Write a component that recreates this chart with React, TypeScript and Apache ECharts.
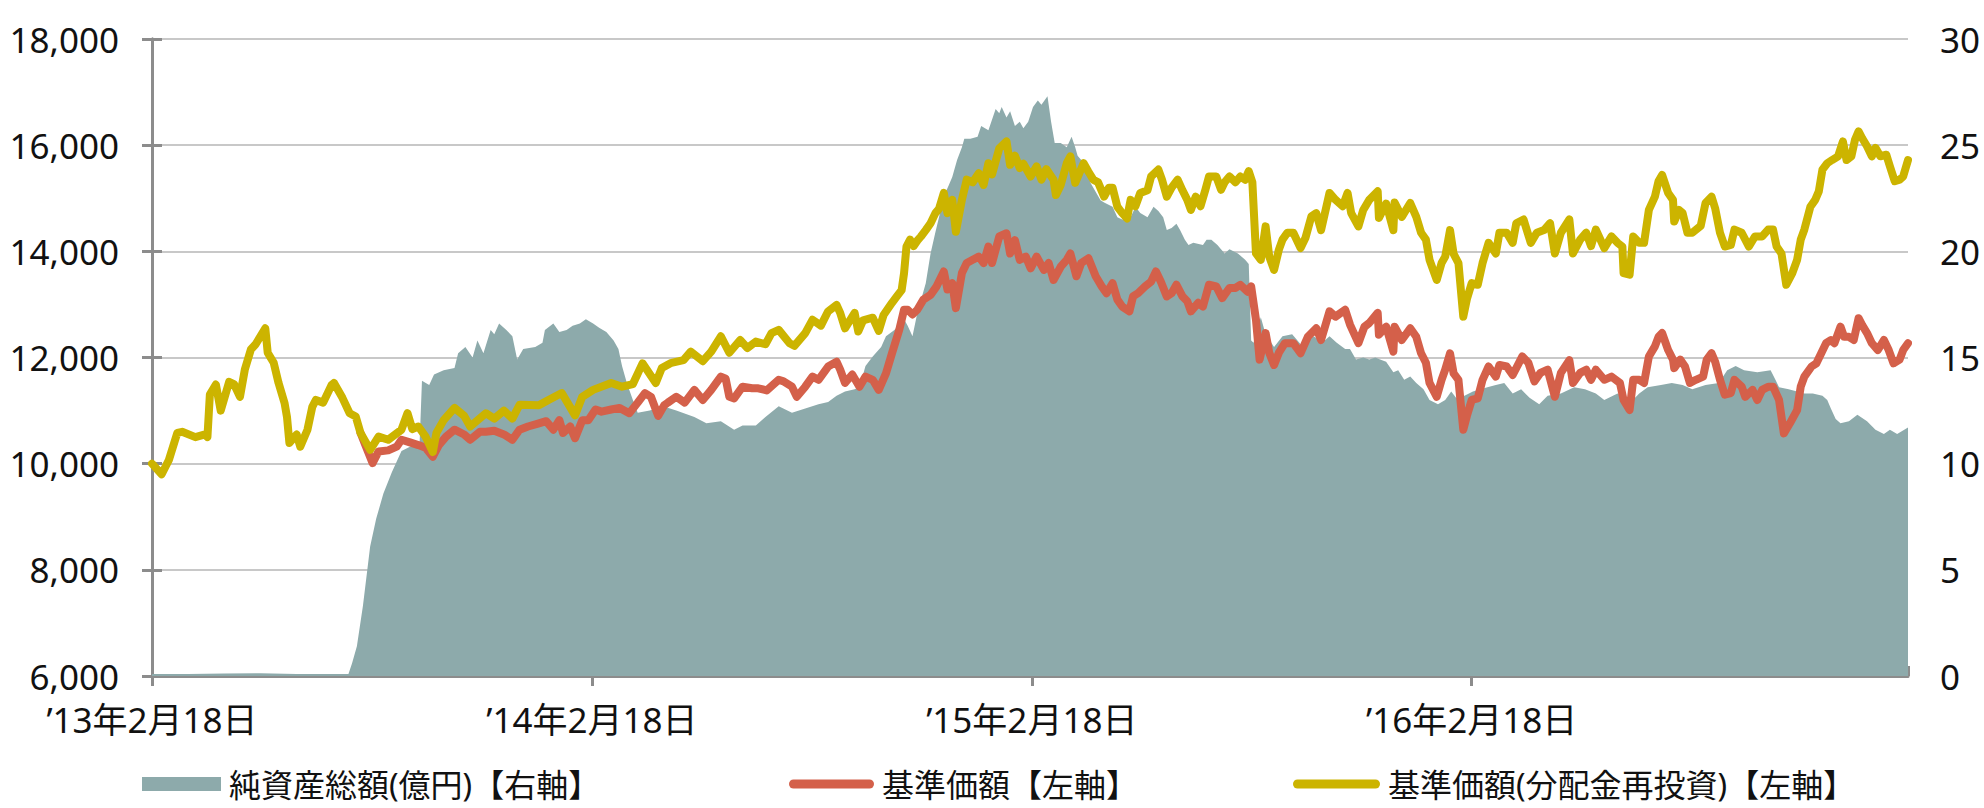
import React, { useEffect, useRef } from "react";
import * as echarts from "echarts";

// x values are days since 2013-02-18
const START_UTC = Date.UTC(2013, 1, 18);
const X_MAX_DAY = 1457;
const X_TICK_DAYS = 365;

const LEFT_AXIS = { min: 6000, max: 18000, interval: 2000 };
const RIGHT_AXIS = { min: 0, max: 30, interval: 5 };

const NAME_ASSETS = "純資産総額(億円)【右軸】";
const NAME_NAV = "基準価額【左軸】";
const NAME_REINV = "基準価額(分配金再投資)【左軸】";

// 純資産総額（億円） [day, value]
const netAssets: [number, number][] = [
  [0, 0.1], [30, 0.1], [60, 0.12], [90, 0.13], [120, 0.1], [150, 0.1], [163, 0.1],
  [166, 0.6], [170, 1.4], [175, 3.3], [181, 6.1], [186, 7.4], [192, 8.6], [199, 9.6],
  [207, 10.6], [214, 10.8], [222, 10.9], [224, 13.9], [230, 13.7], [234, 14.2], [242, 14.4],
  [251, 14.5], [254, 15.2], [260, 15.5], [266, 15.0], [270, 15.8], [275, 15.2], [281, 16.3],
  [284, 16.1], [288, 16.6], [294, 16.3], [299, 16.0], [303, 14.9], [308, 15.4], [318, 15.5],
  [324, 15.7], [326, 16.3], [333, 16.6], [338, 16.2], [344, 16.3], [349, 16.5], [355, 16.6],
  [360, 16.8], [366, 16.6], [371, 16.4], [377, 16.2], [383, 15.8], [387, 15.4], [390, 14.6],
  [394, 13.8], [399, 13.0], [403, 12.4], [413, 12.5], [424, 12.7], [435, 12.5], [450, 12.2],
  [460, 11.9], [472, 12.0], [483, 11.6], [490, 11.8], [501, 11.8], [509, 12.2], [520, 12.7],
  [531, 12.4], [542, 12.6], [553, 12.8], [561, 12.9], [568, 13.2], [575, 13.4], [583, 13.5],
  [587, 13.6], [592, 14.6], [598, 15.05], [605, 15.5], [609, 16.0], [616, 16.3], [624, 16.8],
  [627, 16.5], [631, 16.0], [635, 17.1], [638, 17.7], [642, 18.5], [646, 19.9], [650, 20.9],
  [653, 21.6], [657, 22.6], [661, 23.1], [664, 23.5], [668, 24.3], [672, 24.9], [674, 25.3],
  [679, 25.3], [685, 25.4], [688, 25.9], [694, 25.7], [700, 26.7], [703, 26.5], [705, 26.8],
  [709, 26.3], [712, 26.6], [716, 25.9], [720, 26.1], [723, 25.8], [727, 26.1], [731, 26.8],
  [735, 27.1], [738, 26.9], [743, 27.3], [746, 26.1], [749, 25.1], [754, 25.1], [759, 24.9],
  [763, 25.4], [766, 24.9], [768, 24.5], [771, 24.3], [779, 23.2], [787, 22.4], [790, 22.3],
  [797, 22.1], [801, 21.6], [805, 21.5], [812, 21.6], [816, 22.1], [820, 21.8], [826, 21.6],
  [831, 22.1], [835, 21.9], [839, 21.6], [842, 21.0], [846, 21.1], [850, 21.3], [853, 21.0],
  [857, 20.55], [860, 20.3], [864, 20.4], [872, 20.3], [875, 20.55], [879, 20.55], [884, 20.3],
  [890, 19.9], [894, 20.1], [901, 19.9], [907, 19.6], [910, 19.4], [912, 15.8], [914, 15.7],
  [920, 16.9], [924, 16.1], [931, 15.5], [938, 16.0], [946, 16.1], [955, 15.5], [958, 15.8],
  [964, 16.0], [971, 15.7], [977, 16.0], [983, 15.7], [990, 15.4], [994, 15.4], [999, 14.9],
  [1005, 15.0], [1010, 14.9], [1015, 15.0], [1019, 14.9], [1024, 14.8], [1030, 14.3],
  [1034, 14.4], [1039, 13.95], [1044, 14.1], [1049, 13.8], [1055, 13.5], [1060, 13.0],
  [1067, 12.8], [1073, 13.0], [1078, 13.4], [1082, 13.1], [1089, 13.2], [1096, 13.4],
  [1108, 13.6], [1115, 13.7], [1122, 13.8], [1129, 13.3], [1136, 13.5], [1143, 13.1],
  [1151, 12.8], [1158, 13.2], [1169, 13.3], [1180, 13.6], [1189, 13.5], [1198, 13.3],
  [1205, 13.0], [1216, 13.3], [1227, 12.9], [1234, 13.3], [1241, 13.6], [1252, 13.7],
  [1261, 13.8], [1270, 13.7], [1278, 13.5], [1289, 13.7], [1300, 13.8], [1307, 14.4],
  [1314, 14.6], [1321, 14.4], [1332, 14.3], [1343, 14.4], [1347, 13.95], [1350, 13.6],
  [1358, 13.5], [1365, 13.4], [1371, 13.3], [1378, 13.3], [1386, 13.2], [1390, 13.0],
  [1393, 12.6], [1397, 12.1], [1401, 11.9], [1408, 12.0], [1415, 12.3], [1423, 12.0],
  [1430, 11.6], [1437, 11.4], [1442, 11.6], [1448, 11.4], [1457, 11.7],
];

// 基準価額 [day, yen]
const nav: [number, number][] = [
  [173, 10580], [177, 10350], [183, 10010], [188, 10230], [196, 10250], [203, 10320],
  [207, 10450], [214, 10400], [221, 10350], [227, 10300], [233, 10130], [238, 10350],
  [244, 10510], [251, 10640], [259, 10550], [264, 10450], [272, 10600], [277, 10600],
  [284, 10620], [292, 10550], [299, 10450], [305, 10640], [312, 10700], [321, 10760],
  [327, 10800], [333, 10640], [338, 10820], [341, 10580], [347, 10700], [351, 10480],
  [357, 10820], [362, 10820], [368, 11020], [373, 10980], [381, 11020], [388, 11050],
  [396, 10950], [403, 11150], [409, 11330], [414, 11260], [420, 10900], [425, 11100],
  [428, 11150], [435, 11260], [442, 11150], [450, 11390], [457, 11200], [464, 11390],
  [472, 11640], [476, 11600], [479, 11260], [483, 11230], [490, 11450], [498, 11420],
  [503, 11420], [510, 11380], [520, 11580], [524, 11550], [531, 11450], [535, 11260],
  [542, 11450], [548, 11640], [553, 11580], [561, 11830], [568, 11920], [571, 11770],
  [575, 11520], [581, 11680], [587, 11450], [592, 11640], [598, 11580], [603, 11390],
  [609, 11700], [614, 12080], [620, 12520], [624, 12900], [627, 12900], [631, 12810],
  [635, 12900], [640, 13090], [646, 13180], [651, 13340], [657, 13620], [660, 13280],
  [664, 13400], [667, 12930], [672, 13590], [676, 13780], [681, 13840], [686, 13900],
  [690, 13780], [694, 14090], [697, 13780], [703, 14280], [709, 14340], [712, 13960],
  [716, 14210], [720, 13840], [725, 13900], [729, 13680], [734, 13900], [740, 13650],
  [744, 13780], [748, 13460], [754, 13710], [759, 13840], [762, 13960], [767, 13530],
  [771, 13780], [777, 13870], [783, 13530], [788, 13340], [792, 13210], [797, 13400],
  [801, 13090], [805, 12960], [811, 12870], [814, 13150], [818, 13210], [824, 13340],
  [829, 13430], [833, 13620], [837, 13430], [842, 13150], [846, 13210], [850, 13370],
  [855, 13150], [859, 13060], [862, 12870], [868, 13030], [872, 12960], [877, 13370],
  [883, 13340], [888, 13120], [894, 13310], [899, 13310], [903, 13370], [909, 13240],
  [912, 13340], [916, 12710], [919, 11960], [924, 12460], [927, 12090], [931, 11860],
  [935, 12090], [940, 12270], [947, 12270], [953, 12080], [959, 12390], [966, 12550],
  [970, 12330], [977, 12870], [982, 12770], [990, 12900], [994, 12620], [1001, 12270],
  [1006, 12580], [1010, 12650], [1017, 12840], [1018, 12430], [1024, 12580], [1030, 12110],
  [1031, 12580], [1037, 12330], [1044, 12550], [1049, 12390], [1053, 12080], [1057, 11900],
  [1060, 11520], [1066, 11260], [1070, 11580], [1073, 11770], [1077, 12080], [1080, 11700],
  [1084, 11580], [1088, 10640], [1091, 10900], [1095, 11200], [1100, 11230], [1104, 11580],
  [1109, 11830], [1115, 11640], [1118, 11860], [1124, 11830], [1129, 11670], [1137, 12020],
  [1142, 11900], [1147, 11550], [1152, 11710], [1158, 11770], [1164, 11260], [1169, 11710],
  [1176, 11950], [1179, 11520], [1185, 11710], [1190, 11770], [1194, 11580], [1198, 11770],
  [1205, 11580], [1211, 11640], [1218, 11520], [1221, 11200], [1226, 11010], [1229, 11580],
  [1234, 11580], [1238, 11520], [1242, 12020], [1247, 12210], [1250, 12390], [1253, 12460],
  [1258, 12140], [1262, 11960], [1263, 11800], [1268, 11960], [1272, 11830], [1276, 11520],
  [1281, 11580], [1287, 11640], [1290, 11960], [1294, 12080], [1297, 11920], [1301, 11580],
  [1305, 11300], [1310, 11330], [1313, 11580], [1319, 11450], [1322, 11260], [1328, 11390],
  [1332, 11200], [1336, 11390], [1341, 11450], [1345, 11450], [1350, 11200], [1354, 10570],
  [1359, 10760], [1365, 11010], [1368, 11450], [1371, 11640], [1377, 11830], [1381, 11890],
  [1385, 12080], [1389, 12270], [1393, 12330], [1396, 12270], [1401, 12580], [1404, 12390],
  [1408, 12390], [1412, 12330], [1416, 12740], [1419, 12610], [1423, 12460], [1427, 12270],
  [1432, 12140], [1437, 12330], [1441, 12140], [1445, 11890], [1450, 11960], [1453, 12140],
  [1457, 12270],
];

// 基準価額（分配金再投資） [day, yen]
const navReinvested: [number, number][] = [
  [0, 10000], [8, 9800], [14, 10070], [21, 10580], [25, 10600], [36, 10500], [44, 10550],
  [46, 10500], [48, 11300], [53, 11490], [57, 11000], [64, 11540], [68, 11500], [73, 11260],
  [77, 11770], [82, 12150], [86, 12250], [94, 12550], [96, 12090], [101, 11900], [105, 11520],
  [110, 11140], [112, 10880], [114, 10390], [120, 10550], [123, 10320], [129, 10640],
  [133, 11070], [136, 11200], [142, 11150], [149, 11480], [151, 11520], [158, 11240],
  [164, 10950], [169, 10890], [173, 10580], [181, 10260], [188, 10510], [196, 10450],
  [207, 10640], [212, 10950], [216, 10650], [221, 10700], [227, 10510], [233, 10220],
  [236, 10580], [242, 10820], [251, 11050], [259, 10900], [264, 10700], [277, 10950],
  [284, 10850], [292, 11000], [299, 10850], [305, 11110], [321, 11100], [329, 11200],
  [340, 11330], [351, 10910], [357, 11260], [366, 11390], [381, 11520], [390, 11450],
  [399, 11500], [407, 11890], [418, 11520], [423, 11800], [431, 11900], [441, 11950],
  [447, 12110], [457, 11930], [464, 12110], [472, 12400], [479, 12090], [488, 12330],
  [494, 12180], [501, 12300], [509, 12250], [514, 12460], [520, 12520], [529, 12270],
  [533, 12220], [542, 12460], [548, 12710], [555, 12600], [561, 12870], [568, 12990],
  [571, 12840], [575, 12550], [583, 12840], [586, 12490], [590, 12700], [598, 12750],
  [603, 12500], [607, 12800], [614, 13030], [618, 13150], [622, 13270], [624, 13590],
  [626, 14090], [629, 14220], [632, 14100], [635, 14200], [638, 14280], [642, 14400],
  [646, 14530], [650, 14720], [653, 14800], [657, 15100], [660, 14720], [664, 14970],
  [667, 14370], [672, 14970], [676, 15350], [681, 15300], [686, 15470], [690, 15250],
  [694, 15660], [697, 15450], [703, 15940], [709, 16070], [712, 15630], [716, 15800],
  [720, 15570], [723, 15650], [729, 15410], [734, 15600], [738, 15350], [742, 15550],
  [748, 15350], [750, 15060], [754, 15250], [759, 15660], [762, 15790], [766, 15290],
  [769, 15450], [773, 15660], [777, 15500], [781, 15350], [785, 15300], [790, 15030],
  [794, 15200], [797, 15200], [801, 14840], [805, 14720], [809, 14620], [812, 14970],
  [816, 14850], [820, 15100], [826, 15150], [829, 15410], [835, 15540], [838, 15350],
  [842, 15030], [846, 15200], [851, 15350], [855, 15150], [859, 14970], [862, 14780],
  [866, 15030], [870, 14850], [874, 15160], [877, 15410], [883, 15410], [887, 15160],
  [890, 15300], [894, 15410], [899, 15300], [903, 15410], [907, 15350], [910, 15510],
  [913, 15300], [916, 13960], [920, 13840], [924, 14470], [927, 13900], [931, 13650],
  [935, 14030], [938, 14220], [942, 14350], [947, 14350], [953, 14060], [957, 14250],
  [962, 14660], [966, 14720], [970, 14400], [977, 15100], [982, 14970], [988, 14850],
  [992, 15100], [995, 14720], [1001, 14470], [1005, 14780], [1010, 14970], [1017, 15130],
  [1018, 14630], [1024, 14900], [1030, 14400], [1031, 14920], [1037, 14650], [1044, 14910],
  [1049, 14650], [1053, 14350], [1057, 14220], [1060, 13840], [1066, 13460], [1070, 13780],
  [1073, 13900], [1077, 14400], [1080, 13950], [1084, 13780], [1088, 12770], [1091, 13100],
  [1095, 13400], [1100, 13370], [1104, 13780], [1109, 14160], [1115, 13960], [1118, 14350],
  [1124, 14350], [1129, 14160], [1132, 14530], [1138, 14600], [1144, 14160], [1149, 14350],
  [1155, 14400], [1160, 14530], [1164, 13960], [1169, 14350], [1176, 14600], [1179, 13960],
  [1185, 14220], [1190, 14350], [1194, 14100], [1198, 14410], [1205, 14060], [1211, 14280],
  [1216, 14160], [1220, 14090], [1221, 13590], [1226, 13560], [1229, 14280], [1234, 14160],
  [1238, 14160], [1242, 14780], [1247, 15030], [1250, 15320], [1253, 15440], [1258, 15100],
  [1262, 14970], [1263, 14560], [1267, 14780], [1270, 14720], [1274, 14350], [1278, 14350],
  [1285, 14480], [1289, 14910], [1294, 15030], [1297, 14810], [1301, 14350], [1305, 14090],
  [1310, 14120], [1313, 14410], [1319, 14350], [1325, 14090], [1330, 14280], [1336, 14280],
  [1341, 14410], [1345, 14410], [1348, 14090], [1352, 13960], [1356, 13370], [1361, 13590],
  [1365, 13840], [1368, 14220], [1371, 14410], [1376, 14840], [1380, 14970], [1383, 15130],
  [1386, 15540], [1390, 15660], [1394, 15720], [1399, 15790], [1403, 16070], [1406, 15720],
  [1410, 15790], [1413, 16100], [1416, 16260], [1419, 16130], [1423, 15980], [1427, 15790],
  [1430, 15950], [1434, 15790], [1439, 15820], [1442, 15600], [1446, 15320], [1450, 15350],
  [1453, 15410], [1457, 15720],
];

const COLOR_AREA = "#8DAAAB";
const COLOR_NAV = "#D4604A";
const COLOR_REINV = "#CCB400";
const AXIS_GREY = "#8C8C8C";
const GRID_GREY = "#C8C8C8";
const FONT = "'Noto Sans', 'Noto Sans CJK JP', sans-serif";

const CAPSULE_RED = "path://M4.5,0H80.5A4.5,4.5,0,0,1,80.5,9H4.5A4.5,4.5,0,0,1,4.5,0Z";
const CAPSULE_YEL = "path://M4.5,0H82.5A4.5,4.5,0,0,1,82.5,9H4.5A4.5,4.5,0,0,1,4.5,0Z";

function dayLabel(v: number): string {
  const d = new Date(START_UTC + Math.round(v) * 86400000);
  return `’${String(d.getUTCFullYear()).slice(2)}年${d.getUTCMonth() + 1}月${d.getUTCDate()}日`;
}

export default function App() {
  const ref = useRef<HTMLDivElement>(null);

  useEffect(() => {
    if (!ref.current) return;
    const chart = echarts.init(ref.current, null, { renderer: "svg" });

    const legendText = {
      fontFamily: FONT,
      fontSize: 32,
      color: "#111",
      lineHeight: 32,
      padding: [0, 0, 0, 3],
    };

    chart.setOption({
      animation: false,
      backgroundColor: "#ffffff",
      grid: { left: 152, right: 76, top: 39, bottom: 132, containLabel: false },
      legend: [
        {
          data: [{ name: NAME_ASSETS, icon: "rect" }],
          left: 137, top: 763, itemWidth: 79, itemHeight: 14,
          selectedMode: false, textStyle: legendText,
        },
        {
          data: [{ name: NAME_NAV, icon: CAPSULE_RED }],
          left: 784, top: 763, itemWidth: 85, itemHeight: 9,
          selectedMode: false, textStyle: legendText,
        },
        {
          data: [{ name: NAME_REINV, icon: CAPSULE_YEL }],
          left: 1288, top: 763, itemWidth: 87, itemHeight: 9,
          selectedMode: false, textStyle: legendText,
        },
      ],
      xAxis: [
        {
          type: "value",
          min: 0,
          max: X_MAX_DAY,
          interval: X_TICK_DAYS,
          position: "bottom",
          axisLine: { lineStyle: { color: AXIS_GREY, width: 3 } },
          axisTick: { show: true, inside: false, length: 10, lineStyle: { color: AXIS_GREY, width: 3 } },
          axisLabel: {
            formatter: dayLabel,
            showMaxLabel: false,
            margin: 26,
            fontFamily: FONT,
            fontSize: 35,
            color: "#111",
          },
          splitLine: { show: false },
        },
        {
          type: "value",
          min: 0,
          max: X_MAX_DAY,
          interval: X_TICK_DAYS,
          position: "bottom",
          axisLine: { show: false },
          axisTick: { show: true, inside: true, length: 10, lineStyle: { color: AXIS_GREY, width: 3 } },
          axisLabel: { show: false },
          splitLine: { show: false },
        },
      ],
      yAxis: [
        {
          type: "value",
          position: "left",
          min: LEFT_AXIS.min,
          max: LEFT_AXIS.max,
          interval: LEFT_AXIS.interval,
          axisLine: { show: true, lineStyle: { color: AXIS_GREY, width: 3 } },
          axisTick: { show: true, length: 10, lineStyle: { color: AXIS_GREY, width: 3 } },
          axisLabel: {
            margin: 33,
            fontFamily: FONT,
            fontSize: 35,
            color: "#111",
            formatter: (v: number) => v.toLocaleString("en-US"),
          },
          splitLine: { show: true, lineStyle: { color: GRID_GREY, width: 2 } },
        },
        {
          type: "value",
          position: "right",
          min: RIGHT_AXIS.min,
          max: RIGHT_AXIS.max,
          interval: RIGHT_AXIS.interval,
          axisLine: { show: true, lineStyle: { color: AXIS_GREY, width: 3 } },
          axisTick: { show: true, length: 10, lineStyle: { color: AXIS_GREY, width: 3 } },
          axisLabel: { margin: 32, fontFamily: FONT, fontSize: 35, color: "#111" },
          splitLine: { show: false },
        },
      ],
      series: [
        {
          name: NAME_ASSETS,
          type: "line",
          xAxisIndex: 0,
          yAxisIndex: 1,
          data: netAssets,
          color: COLOR_AREA,
          symbol: "none",
          lineStyle: { width: 0 },
          areaStyle: { color: COLOR_AREA, opacity: 1 },
          z: 1,
        },
        {
          name: NAME_NAV,
          type: "line",
          xAxisIndex: 0,
          yAxisIndex: 0,
          data: nav,
          color: COLOR_NAV,
          symbol: "none",
          lineStyle: { width: 8, color: COLOR_NAV, cap: "round", join: "round" },
          z: 2,
        },
        {
          name: NAME_REINV,
          type: "line",
          xAxisIndex: 0,
          yAxisIndex: 0,
          data: navReinvested,
          color: COLOR_REINV,
          symbol: "none",
          lineStyle: { width: 8, color: COLOR_REINV, cap: "round", join: "round" },
          z: 3,
        },
      ],
    });

    return () => chart.dispose();
  }, []);

  return (
    <div
      ref={ref}
      style={{ position: "fixed", left: 0, top: 0, width: 1984, height: 808, background: "#fff" }}
    />
  );
}
